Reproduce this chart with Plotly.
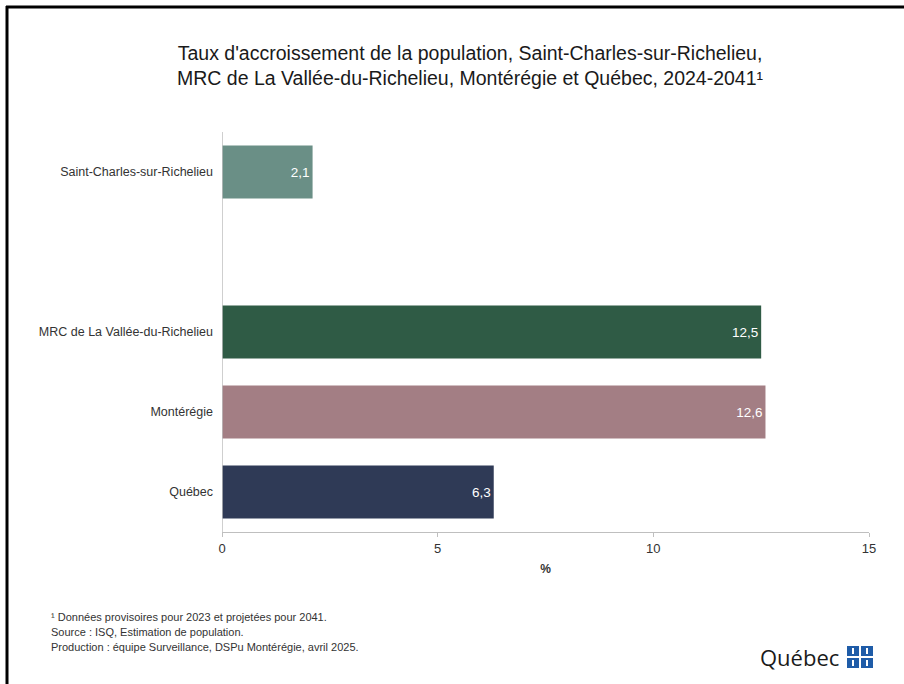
import plotly.graph_objects as go

categories = ["Saint-Charles-sur-Richelieu", "MRC de La Vallée-du-Richelieu", "Montérégie", "Québec"]
values = [2.1, 12.5, 12.6, 6.3]
colors = ["#6A8F86", "#2F5B45", "#A37E84", "#2F3A56"]
axis_order = ["Saint-Charles-sur-Richelieu", " ", "MRC de La Vallée-du-Richelieu", "Montérégie", "Québec"]
x_ticks = [0, 5, 10, 15]

title_text = ("Taux d'accroissement de la population, Saint-Charles-sur-Richelieu,<br>"
              "MRC de La Vallée-du-Richelieu, Montérégie et Québec, 2024-2041¹")
notes = ["¹ Données provisoires pour 2023 et projetées pour 2041.",
         "Source : ISQ, Estimation de population.",
         "Production : équipe Surveillance, DSPu Montérégie, avril 2025."]

W, H = 904, 684
L, R, T, B = 222, 35, 132, 152

def px_x(p):
    return (p - L) / (W - L - R)

def px_y(p):
    return 1 - (p - T) / (H - T - B)

fig = go.Figure()
fig.add_trace(go.Bar(
    y=categories, x=values, orientation="h",
    marker=dict(color=colors, line=dict(width=0)),
    width=0.66,
    texttemplate="%{x:.1f}", textposition="inside", insidetextanchor="end",
    textfont=dict(color="white", size=13.5, family="Liberation Sans"),
    cliponaxis=False, hoverinfo="skip",
))

fig.update_layout(
    width=W, height=H,
    margin=dict(l=L, r=R, t=T, b=B),
    paper_bgcolor="white", plot_bgcolor="white",
    separators=", ",
    showlegend=False,
    font=dict(family="Liberation Sans", color="#333333"),
)
fig.update_yaxes(
    type="category", categoryorder="array", categoryarray=axis_order,
    range=[4.5, -0.5], showgrid=False, zeroline=False,
    showline=False, ticks="", ticklabelstandoff=8,
    tickfont=dict(size=12.5, color="#333333"),
)
fig.update_xaxes(
    range=[0, 15], tickvals=x_ticks, showgrid=False, zeroline=False,
    showline=True, linecolor="#BFBFBF", linewidth=1,
    ticks="outside", ticklen=4, tickcolor="#BFBFBF",
    tickfont=dict(size=13, color="#333333"),
    title=dict(text="<b>%</b>", font=dict(size=12, color="#333333"), standoff=10),
)
fig.add_shape(type="line", xref="x", yref="paper", x0=0, x1=0, y0=0, y1=1,
              line=dict(color="#BFBFBF", width=1.5))

# title
fig.add_annotation(text=title_text, xref="paper", yref="paper",
                   x=px_x(470), y=px_y(66),
                   xanchor="center", yanchor="middle", showarrow=False,
                   font=dict(family="Liberation Sans", size=19.5, color="#1a1a1a"),
                   align="center")

# footnotes
for i, n in enumerate(notes):
    fig.add_annotation(text=n, xref="paper", yref="paper",
                       x=px_x(49), y=px_y(617 + 15 * i),
                       xanchor="left", yanchor="middle", showarrow=False,
                       font=dict(family="Liberation Sans", size=11, color="#333333"))

# Québec logo
fig.add_annotation(text="Québec", xref="paper", yref="paper",
                   x=px_x(841), y=px_y(657),
                   xanchor="right", yanchor="middle", showarrow=False,
                   font=dict(family="Open Sans", size=22, color="#1a1a1a"))

for (x0, y0) in [(847, 646), (861, 646), (847, 658), (861, 658)]:
    fig.add_shape(type="rect", xref="paper", yref="paper",
                  x0=px_x(x0), x1=px_x(x0 + 12), y0=px_y(y0), y1=px_y(y0 + 10),
                  line=dict(width=0), fillcolor="#1F5CA8")
    fig.add_shape(type="rect", xref="paper", yref="paper",
                  x0=px_x(x0 + 5), x1=px_x(x0 + 7), y0=px_y(y0 + 2), y1=px_y(y0 + 8),
                  line=dict(width=0), fillcolor="white")

# frame (top and left border)
fig.add_shape(type="line", xref="paper", yref="paper",
              x0=px_x(6), x1=px_x(W + 10), y0=px_y(7), y1=px_y(7),
              line=dict(color="black", width=3))
fig.add_shape(type="line", xref="paper", yref="paper",
              x0=px_x(7), x1=px_x(7), y0=px_y(6), y1=px_y(H + 10),
              line=dict(color="black", width=3))

fig.write_html("out.html", config={"displayModeBar": False},
               post_script="document.body.style.margin='0px';")
